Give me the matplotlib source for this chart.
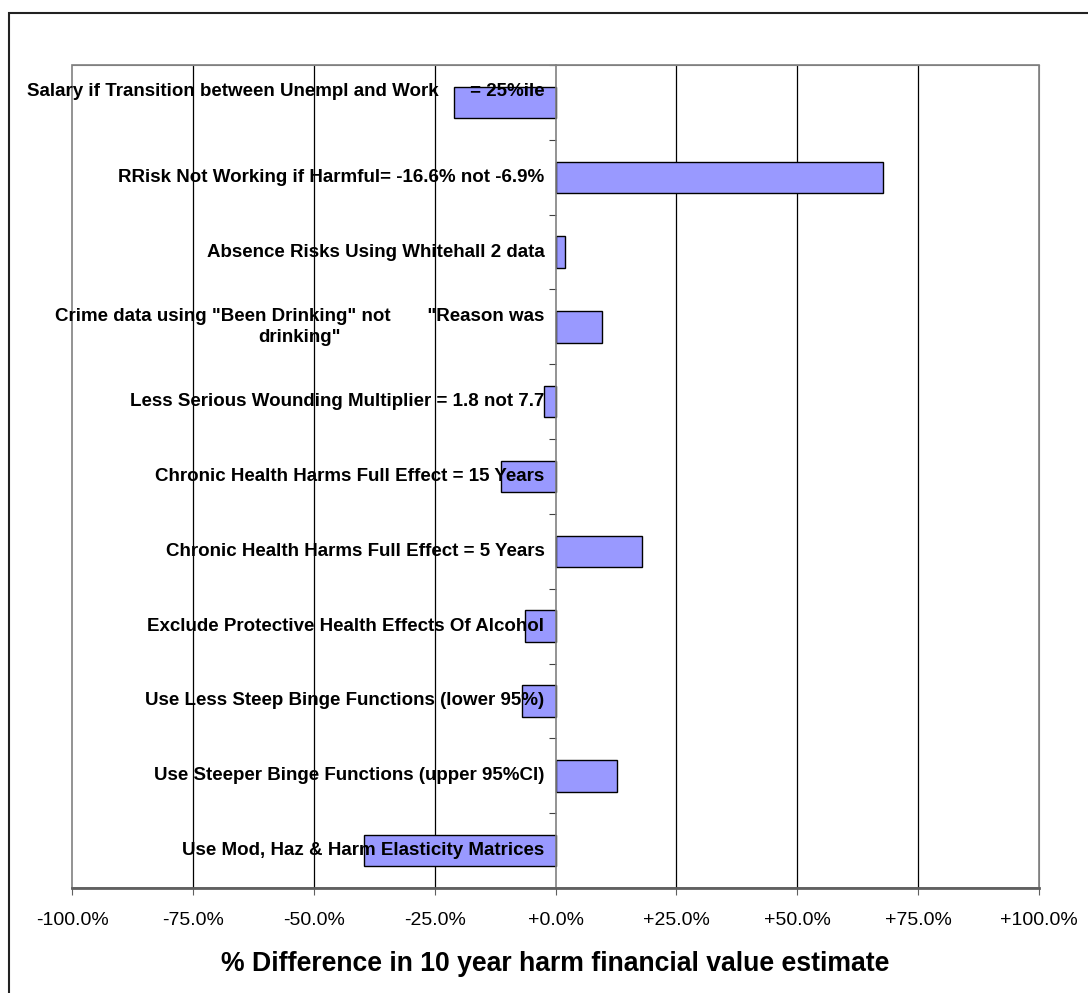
import numpy as np
import matplotlib
matplotlib.use('Agg')
import matplotlib.pyplot as plt
from matplotlib.patches import Rectangle

plt.rcParams['font.family'] = ['Liberation Sans', 'DejaVu Sans']

# scenario labels, top to bottom (first one wraps onto an empty 2nd line)
labels = [
    'Salary if Transition between Unempl and Work      = 25%ile\n ',
    'RRisk Not Working if Harmful= -16.6% not -6.9%',
    'Absence Risks Using Whitehall 2 data',
    'Crime data using "Been Drinking" not       "Reason was\ndrinking"',
    'Less Serious Wounding Multiplier = 1.8 not 7.7',
    'Chronic Health Harms Full Effect = 15 Years',
    'Chronic Health Harms Full Effect = 5 Years',
    'Exclude Protective Health Effects Of Alcohol',
    'Use Less Steep Binge Functions (lower 95%)',
    'Use Steeper Binge Functions (upper 95%CI)',
    'Use Mod, Haz & Harm Elasticity Matrices',
]
# % difference in 10 year harm financial value
values = [-20.9, 67.8, 1.9, 9.7, -2.3, -11.2, 17.8, -6.4, -7.0, 12.8, -39.7]

xticks = [-100, -75, -50, -25, 0, 25, 50, 75, 100]
xticklabels = ['-100.0%', '-75.0%', '-50.0%', '-25.0%', '+0.0%',
               '+25.0%', '+50.0%', '+75.0%', '+100.0%']

fig = plt.figure(figsize=(10.88, 9.93), dpi=100)
ax = fig.add_axes([0.0662, 0.1057, 0.8888, 0.8288])

pos = np.arange(len(labels))
ax.barh(pos, values, height=0.42, color='#9999FF', edgecolor='black',
        linewidth=1.0, zorder=2)

# gridlines
for g in [-75, -50, -25, 25, 50, 75]:
    ax.axvline(g, color='black', lw=0.9, zorder=1)

# labels sit inside the plot, right aligned just left of zero
for p, lab in zip(pos, labels):
    ax.text(-2.3, p, lab, ha='right', va='center', multialignment='center',
            fontsize=13.5, fontweight='bold', linespacing=1.35, zorder=3)

ax.set_xlim(-100, 100)
ax.set_ylim(len(labels) - 0.5, -0.5)

# y axis through zero with category separator ticks
ax.spines['left'].set_position(('data', 0))
ax.spines['left'].set_color('#808080')
ax.spines['left'].set_linewidth(1.2)
ax.set_yticks(np.arange(-0.5, len(labels), 1))
ax.set_yticklabels([])
ax.tick_params(axis='y', direction='out', length=5, color='#404040')

for s in ['top', 'right']:
    ax.spines[s].set_color('#808080')
ax.spines['bottom'].set_color('#606060')
ax.spines['bottom'].set_linewidth(2)
ax.add_patch(Rectangle((0, 0), 1, 1, transform=ax.transAxes, fill=False,
                       edgecolor='#808080', lw=1.2, zorder=0, clip_on=False))

ax.set_xticks(xticks)
ax.set_xticklabels(xticklabels, fontsize=14)
ax.tick_params(axis='x', direction='out', length=5, color='#606060', pad=12)
ax.set_xlabel('% Difference in 10 year harm financial value estimate',
              fontsize=19.2, fontweight='bold', labelpad=16)

# outer chart border
fig.patches.append(Rectangle((9 / 1088, -0.05), 1.2, 1.05 - 13 / 993,
                             transform=fig.transFigure, fill=False,
                             edgecolor='#222222', lw=1.5))

fig.savefig('out.png', dpi=100)
